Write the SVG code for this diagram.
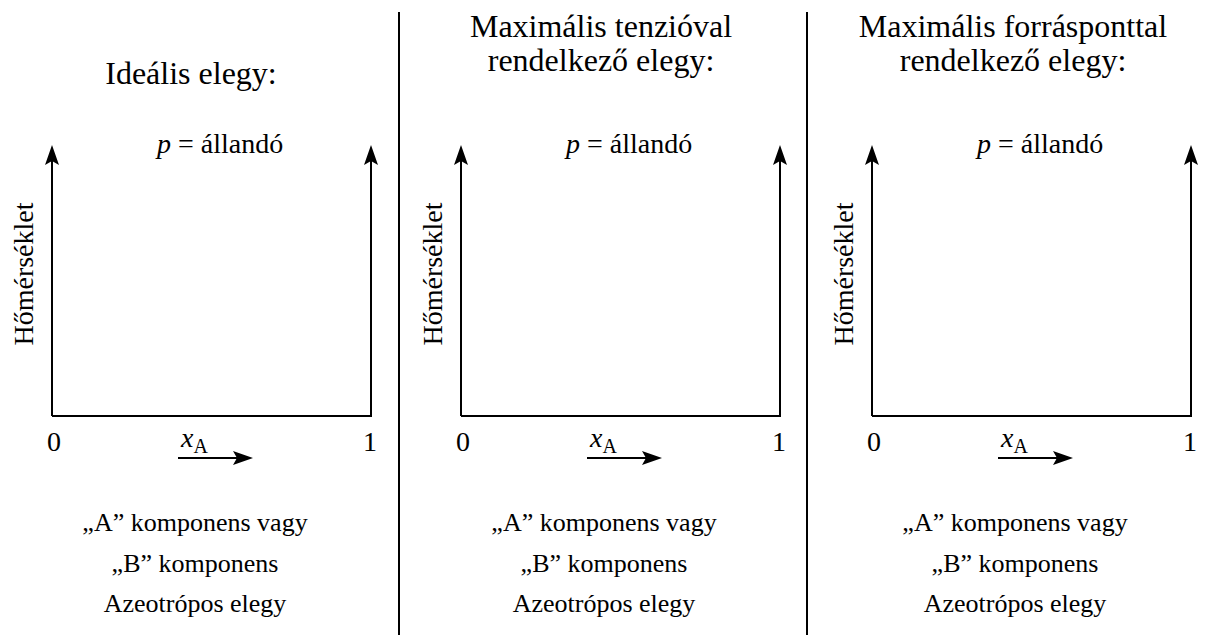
<svg xmlns="http://www.w3.org/2000/svg" width="1205" height="635" viewBox="0 0 1205 635">
  <style>
    text { font-family: 'Liberation Serif', serif; font-size: 28px; fill: #000; }
    .caption { font-size: 26px; }
    .heading { font-size: 32px; }
    .centered { text-anchor: middle; }
    .italic { font-style: italic; }
    .subscript { font-size: 20px; }
    .axis { fill: none; stroke: #000; stroke-width: 2; }
    .tip { fill: #000; stroke: none; }
  </style>

  <g id="separators">
    <path class="axis" d="M399,12 V635 M807,12 V635"/>
  </g>

  <!-- axes and composition arrows, with filled arrowheads -->
  <g id="connectors">
    <path class="axis" d="M52,416 V160 M52,416 H371 V160 M178,458 H238"/>
    <path class="tip" d="M52,145 L59,165 L52,161 L45,165 Z M371,145 L378,165 L371,161 L364,165 Z M253,458 L233,465 L237,458 L233,451 Z"/>
    <path class="axis" d="M461,416 V160 M461,416 H780 V160 M587,458 H647"/>
    <path class="tip" d="M461,145 L468,165 L461,161 L454,165 Z M780,145 L787,165 L780,161 L773,165 Z M662,458 L642,465 L646,458 L642,451 Z"/>
    <path class="axis" d="M872,416 V160 M872,416 H1191 V160 M998,458 H1058"/>
    <path class="tip" d="M872,145 L879,165 L872,161 L865,165 Z M1191,145 L1198,165 L1191,161 L1184,165 Z M1073,458 L1053,465 L1057,458 L1053,451 Z"/>
  </g>

  <g id="ideal">
    <text class="heading centered" x="191" y="84">Ideális elegy:</text>
    <text x="157" y="153"><tspan class="italic">p</tspan> = állandó</text>
    <text class="centered" transform="translate(33,274) rotate(-90)">Hőmérséklet</text>
    <text x="47" y="451">0</text>
    <text x="363" y="451">1</text>
    <text x="181" y="447"><tspan class="italic">x</tspan><tspan class="subscript" dy="6">A</tspan></text>
    <text class="caption centered" x="195" y="531">„A” komponens vagy</text>
    <text class="caption centered" x="195" y="572">„B” komponens</text>
    <text class="caption centered" x="195" y="612">Azeotrópos elegy</text>
  </g>

  <g id="max-tension">
    <text class="heading centered" x="601" y="37">Maximális tenzióval</text>
    <text class="heading centered" x="601" y="71">rendelkező elegy:</text>
    <text x="566" y="153"><tspan class="italic">p</tspan> = állandó</text>
    <text class="centered" transform="translate(442,274) rotate(-90)">Hőmérséklet</text>
    <text x="456" y="451">0</text>
    <text x="772" y="451">1</text>
    <text x="590" y="447"><tspan class="italic">x</tspan><tspan class="subscript" dy="6">A</tspan></text>
    <text class="caption centered" x="604" y="531">„A” komponens vagy</text>
    <text class="caption centered" x="604" y="572">„B” komponens</text>
    <text class="caption centered" x="604" y="612">Azeotrópos elegy</text>
  </g>

  <g id="max-boiling">
    <text class="heading centered" x="1013" y="37">Maximális forrásponttal</text>
    <text class="heading centered" x="1013" y="71">rendelkező elegy:</text>
    <text x="977" y="153"><tspan class="italic">p</tspan> = állandó</text>
    <text class="centered" transform="translate(853,274) rotate(-90)">Hőmérséklet</text>
    <text x="867" y="451">0</text>
    <text x="1183" y="451">1</text>
    <text x="1001" y="447"><tspan class="italic">x</tspan><tspan class="subscript" dy="6">A</tspan></text>
    <text class="caption centered" x="1015" y="531">„A” komponens vagy</text>
    <text class="caption centered" x="1015" y="572">„B” komponens</text>
    <text class="caption centered" x="1015" y="612">Azeotrópos elegy</text>
  </g>
</svg>
